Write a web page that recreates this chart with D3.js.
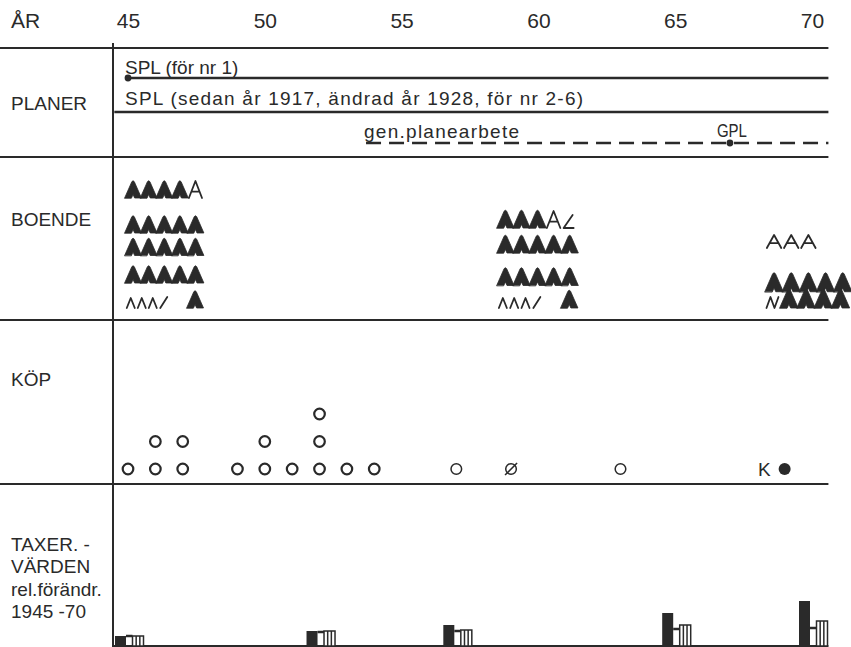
<!DOCTYPE html>
<html><head><meta charset="utf-8">
<script src="https://cdn.jsdelivr.net/npm/d3@7"></script>
<style>
html,body{margin:0;padding:0;background:#fff;}
svg{display:block;}
text{font-family:"Liberation Sans", Arial, sans-serif; fill:#2a2a2a;}
</style></head><body>
<svg id="chart" width="851" height="647"></svg>
<script>
// ---- time axis ----
const tickYears = [45, 50, 55, 60, 65, 70];
const endYear = 70.6;

// ---- section titles ----
const sectionTitles = [["ÅR"], ["PLANER"], ["BOENDE"], ["KÖP"], ["TAXER. -", "VÄRDEN", "rel.förändr.", "1945 -70"]];

// ---- PLANER ----
const planLabels = ["SPL (för nr 1)", "SPL (sedan år 1917, ändrad år 1928, för nr 2-6)", "gen.planearbete"];
const planStart = [45, 44.5, 53.7];
const planDashed = [false, false, true];
const planMarkYear = [45, null, 67];
const planMarkLabel = [null, null, "GPL"];

// ---- BOENDE (F filled house, O open house, c/s/z/n small marks) ----
const boendeStart = [44.9, 58.5, 68.3];
const boendeSymbols = [
  ["FFFFO", "FFFFF", "FFFFF", "FFFFF", "cccs  F"],
  ["FFFOz", "FFFFF", "FFFFF", "cccs  F"],
  ["OOO", "FFFFF", "nFFFF"]
];
const boendeLevels = [
  [4.4, 3, 2.1, 1, 0],
  [3.2, 2.2, 0.9, 0],
  [2.4, 0.65, 0]
];

// ---- KÖP ----
const kopYears  = [45, 46, 47, 49, 50, 51, 52, 53, 54, 57, 59, 63, 69];
const kopCounts = [1, 2, 2, 1, 2, 1, 3, 1, 1, 1, 1, 1, 1];
const kopKinds  = ["o","o","o","o","o","o","o","o","o","o","slash","o","K"];

// ---- TAXER.-VÄRDEN, relative change 1945-70 ----
const taxYears   = [45, 52, 57, 65, 70];
const taxDark    = [1.0, 1.5, 2.1, 3.3, 4.5];
const taxStriped = [1.0, 1.5, 1.6, 2.1, 2.5];
const taxLink    = [1.0, 1.4, 1.5, 1.7, 1.8];

// ---- layout ----
const ink = "#2a2a2a";
const svg = d3.select("#chart");
const x = d3.scaleLinear().domain([45, 70]).range([128, 812]);
const xEnd = x(endYear);
const dividerX = 113;
const separators = [48, 157, 320, 484];
const titleX = 11;
const titleBase = [[28], [110], [226], [386], [551, 573, 596, 618]];
const planTextY = [74, 105, 138], planLineY = [78, 112, 143];
const yB = d3.scaleLinear().domain([0, 1]).range([308, 283]);
const yK = d3.scaleLinear().domain([1, 2]).range([469, 441.5]);
const yT = d3.scaleLinear().domain([0, 5]).range([646, 596]);

// frame lines
svg.selectAll("line.sep").data(separators).join("line")
  .attr("x1", 0).attr("x2", xEnd).attr("y1", d => d).attr("y2", d => d)
  .attr("stroke", ink).attr("stroke-width", 2);
svg.append("line").attr("x1", dividerX).attr("x2", dividerX).attr("y1", 43).attr("y2", 647)
  .attr("stroke", ink).attr("stroke-width", 2);
svg.append("line").attr("x1", dividerX).attr("x2", xEnd).attr("y1", yT(0)).attr("y2", yT(0))
  .attr("stroke", ink).attr("stroke-width", 2);

// year labels
const axis = d3.axisTop(x).tickValues(tickYears).tickSize(0).tickPadding(0).tickFormat(d3.format("d"));
const gAxis = svg.append("g").attr("transform", "translate(0,28)").call(axis);
gAxis.select(".domain").remove();
gAxis.selectAll("text").attr("font-size", 21).attr("font-family", "Liberation Sans, Arial, sans-serif")
  .attr("fill", ink).attr("dy", 0);

// section titles
sectionTitles.forEach((lines, i) => {
  svg.selectAll(null).data(lines).join("text")
    .attr("x", titleX).attr("y", (d, j) => titleBase[i][j])
    .attr("font-size", i === 0 ? 21 : 19).text(d => d);
});

// PLANER
planLabels.forEach((lab, i) => {
  const x0 = x(planStart[i]);
  const t = svg.append("text").attr("x", i === 2 ? x0 - 2 : 125).attr("y", planTextY[i])
    .attr("font-size", 19).text(lab);
  if (i === 1) t.attr("textLength", 458).attr("lengthAdjust", "spacing");
  if (i === 2) t.attr("textLength", 155).attr("lengthAdjust", "spacing");
  svg.append("line").attr("x1", x0).attr("x2", xEnd).attr("y1", planLineY[i]).attr("y2", planLineY[i])
    .attr("stroke", ink).attr("stroke-width", 2.5)
    .attr("stroke-dasharray", planDashed[i] ? "15,8" : null);
  if (planMarkYear[i] != null) {
    svg.append("circle").attr("cx", x(planMarkYear[i])).attr("cy", planLineY[i]).attr("r", 3.4).attr("fill", ink);
  }
  if (planMarkLabel[i]) {
    svg.append("text").attr("x", x(planMarkYear[i]) + 2).attr("y", planTextY[i] - 1).attr("text-anchor", "middle")
      .attr("font-size", 19).attr("textLength", 30).attr("lengthAdjust", "spacingAndGlyphs").text(planMarkLabel[i]);
  }
});

// BOENDE symbols
const advance = { F: 15.6, O: 15.6, c: 11, s: 11, z: 15, n: 13.5, " ": 9 };
const clusterScale = [1, 1.03, 1.1];
function symbolPath(ch, w, h) {
  switch (ch) {
    case "F": return `M${-w*0.04},0 L${w*0.42},${-h+1.2} Q${w*0.5},${-h-0.6} ${w*0.58},${-h+1.2} L${w*1.04},0 L${w*0.6},0 L${w*0.5},${-h*0.2} L${w*0.4},0 Z`;
    case "O": return `M${w*0.08},0 L${w*0.5},${-h+0.5} L${w*0.92},0 M${w*0.27},${-h*0.36} L${w*0.73},${-h*0.36}`;
    case "c": return `M1.5,0 L5.5,-10 L9.5,0`;
    case "s": return `M2,0 L9,-11`;
    case "z": return `M2,0 L11,-13 M2,0 L12,0`;
    case "n": return `M1,0 L5,-11 L9,0 L13,-11`;
  }
  return null;
}
boendeSymbols.forEach((rows, ci) => {
  const k = clusterScale[ci];
  rows.forEach((row, ri) => {
    let cx = x(boendeStart[ci]);
    const base = yB(boendeLevels[ci][ri]);
    const items = [];
    for (const ch of row) {
      const adv = advance[ch] * k;
      if (ch !== " ") items.push({ ch, x: cx, w: adv });
      cx += adv;
    }
    svg.selectAll(null).data(items).join("path")
      .attr("transform", d => `translate(${d.x},${base})`)
      .attr("d", d => symbolPath(d.ch, d.w, (d.ch === "O" && ci === 2 ? 13.5 : 17.5) * (d.ch === "F" ? k : 1)))
      .attr("fill", d => d.ch === "F" ? ink : "none")
      .attr("stroke", ink)
      .attr("stroke-width", d => d.ch === "F" ? 0.8 : 1.8)
      .attr("stroke-linejoin", "round").attr("stroke-linecap", "round");
  });
});

// KÖP markers
const kopMarks = [];
kopYears.forEach((yr, i) => {
  for (let n = 1; n <= kopCounts[i]; n++) kopMarks.push({ yr, n, kind: kopKinds[i] });
});
const gK = svg.append("g");
gK.selectAll("circle").data(kopMarks).join("circle")
  .attr("cx", d => x(d.yr)).attr("cy", d => yK(d.n))
  .attr("r", d => d.kind === "K" ? 6 : 5.3)
  .attr("fill", d => d.kind === "K" ? ink : "none")
  .attr("stroke", ink).attr("stroke-width", d => d.kind === "K" ? 0 : (d.yr >= 55 ? 1.5 : 2.2));
kopMarks.filter(d => d.kind === "slash").forEach(d => {
  gK.append("line").attr("x1", x(d.yr) - 6).attr("y1", yK(d.n) + 6).attr("x2", x(d.yr) + 6).attr("y2", yK(d.n) - 6)
    .attr("stroke", ink).attr("stroke-width", 1.6);
});
kopMarks.filter(d => d.kind === "K").forEach(d => {
  gK.append("text").attr("x", x(d.yr) - 14).attr("y", yK(d.n) + 7).attr("text-anchor", "end")
    .attr("font-size", 19).text("K");
});

// TAXER.-VÄRDEN bars
const barW = 11;
const gT = svg.append("g");
taxYears.forEach((yr, i) => {
  const c = x(yr);
  const dx0 = c - 13, sx0 = c + 4.5;
  gT.append("rect").attr("x", dx0).attr("width", barW)
    .attr("y", yT(taxDark[i])).attr("height", yT(0) - yT(taxDark[i])).attr("fill", ink);
  gT.append("line").attr("x1", dx0 + barW).attr("x2", sx0).attr("y1", yT(taxLink[i])).attr("y2", yT(taxLink[i]))
    .attr("stroke", ink).attr("stroke-width", 2.5);
  const top = yT(taxStriped[i]);
  gT.append("rect").attr("x", sx0).attr("width", barW).attr("y", top).attr("height", yT(0) - top)
    .attr("fill", "#fff").attr("stroke", ink).attr("stroke-width", 1.5);
  [1, 2].forEach(j => {
    gT.append("line").attr("x1", sx0 + j * barW / 3).attr("x2", sx0 + j * barW / 3)
      .attr("y1", top).attr("y2", yT(0)).attr("stroke", ink).attr("stroke-width", 1.5);
  });
});
</script>
</body></html>
